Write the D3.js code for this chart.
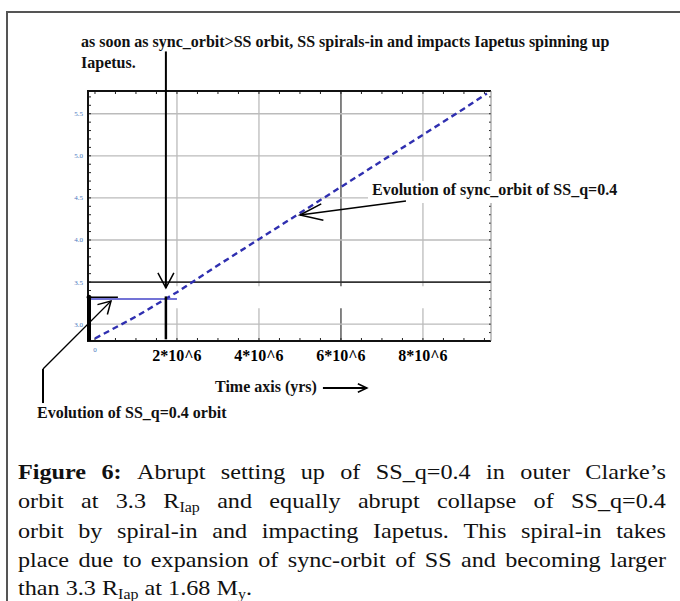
<!DOCTYPE html>
<html>
<head>
<meta charset="utf-8">
<script src="https://cdn.jsdelivr.net/npm/d3@7"></script>
<style>
  body { margin: 0; background: #fff; }
  svg { display: block; }
</style>
</head>
<body>
<svg id="fig" width="680" height="601"></svg>
<script>
const WIDTH = 680
const HEIGHT = 601

// time in units of 10^6 yrs, orbit radius in R_Iap
const syncTime = [0, 1, 2, 3, 4, 5, 6, 7, 8, 9, 9.56]
const syncOrbit = [2.83, 3.09, 3.38, 3.70, 4.01, 4.32, 4.63, 4.94, 5.25, 5.56, 5.74]
const ssTime = [-0.17, 2.0]
const ssOrbit = [3.3, 3.3]
const collapseTime = 1.73
const xTicks = [2, 4, 6, 8]
const xTickLabels = ['2*10^6', '4*10^6', '6*10^6', '8*10^6']
const yTicks = [3.0, 3.5, 4.0, 4.5, 5.0, 5.5]
const yTickLabels = ['3.0', '3.5', '4.0', '4.5', '5.0', '5.5']

const captionLines = [
    '*Figure *6: Abrupt setting up of SS_q=0.4 in outer Clarke’s',
    'orbit at 3.3 R_{Iap} and equally abrupt collapse of SS_q=0.4',
    'orbit by spiral-in and impacting Iapetus. This spiral-in takes',
    'place due to expansion of sync-orbit of SS and becoming larger',
    'than 3.3 R_{Iap} at 1.68 M_{y}.'
]

const SERIF = '"Liberation Serif", "Times New Roman", serif'
const svg = d3.select('#fig')

// page frame
svg.append('path')
    .attr('d', `M7,${HEIGHT} V12 H${WIDTH}`)
    .attr('fill', 'none')
    .attr('stroke', '#555')
    .attr('stroke-width', 2)

let plot = { left: 88, right: 491, top: 91, bottom: 341 }

const x = d3.scaleLinear().domain([-0.17, 9.66]).range([plot.left, plot.right])
const y = d3.scaleLinear().domain([2.8, 5.77]).range([plot.bottom, plot.top])

// grid (the vertical lines have a small break just under 3.5)
let grid = svg.append('g')
xTicks.forEach(t => {
    [[5.77, 3.45], [3.19, 2.8]].forEach(([a, b]) => {
        grid.append('line')
            .attr('x1', x(t)).attr('x2', x(t))
            .attr('y1', y(a)).attr('y2', y(b))
            .attr('stroke', t === 6 ? '#666' : '#bbb')
            .attr('stroke-width', t === 6 ? 1.6 : 1.3)
    })
})
yTicks.forEach(v => {
    grid.append('line')
        .attr('x1', plot.left).attr('x2', plot.right)
        .attr('y1', y(v)).attr('y2', y(v))
        .attr('stroke', v === 3.5 ? '#333' : '#bbb')
        .attr('stroke-width', v === 3.5 ? 1.8 : 1.3)
})

// minor ticks, pointing inward
let ticks = svg.append('g').attr('stroke', '#222').attr('stroke-width', 1)
d3.range(0, 9.6, 0.5).forEach(t => {
    ticks.append('line').attr('x1', x(t)).attr('x2', x(t)).attr('y1', plot.bottom).attr('y2', plot.bottom - 3)
    ticks.append('line').attr('x1', x(t)).attr('x2', x(t)).attr('y1', plot.top).attr('y2', plot.top + 3)
})
d3.range(2.8, 5.75, 0.1).forEach(v => {
    ticks.append('line').attr('x1', plot.left).attr('x2', plot.left + 3).attr('y1', y(v)).attr('y2', y(v))
    ticks.append('line').attr('x1', plot.right).attr('x2', plot.right - 2).attr('y1', y(v)).attr('y2', y(v))
})

// plot border
svg.append('path')
    .attr('d', `M${plot.right},${plot.top} H${plot.left} V${plot.bottom} H${plot.right}`)
    .attr('fill', 'none').attr('stroke', '#111').attr('stroke-width', 2)
svg.append('line')
    .attr('x1', plot.right).attr('x2', plot.right).attr('y1', plot.top).attr('y2', plot.bottom)
    .attr('stroke', '#888').attr('stroke-width', 1)

// tick labels
svg.append('g').selectAll('text')
    .data(yTicks)
    .join('text')
    .attr('x', plot.left - 5)
    .attr('y', d => y(d))
    .attr('dy', '0.35em')
    .attr('text-anchor', 'end')
    .attr('font-family', SERIF)
    .attr('font-size', 7)
    .attr('fill', '#4a78c0')
    .text((d, i) => yTickLabels[i])

svg.append('text')
    .attr('x', x(0)).attr('y', 352)
    .attr('text-anchor', 'middle')
    .attr('font-family', SERIF).attr('font-size', 7).attr('fill', '#4a78c0')
    .text('0')

svg.append('g').selectAll('text')
    .data(xTicks)
    .join('text')
    .attr('x', d => x(d))
    .attr('y', 361)
    .attr('text-anchor', 'middle')
    .attr('font-family', SERIF)
    .attr('font-weight', 'bold')
    .attr('font-size', 16)
    .text((d, i) => xTickLabels[i])

// white box behind the sync orbit label
svg.append('rect')
    .attr('x', 368).attr('y', 181).attr('width', 264).attr('height', 22)
    .attr('fill', '#fff')

// series
svg.append('path')
    .datum(syncTime.map((t, i) => [t, syncOrbit[i]]))
    .attr('fill', 'none')
    .attr('stroke', '#2f2fb0')
    .attr('stroke-width', 2.4)
    .attr('stroke-dasharray', '6,4')
    .attr('d', d3.line().x(d => x(d[0])).y(d => y(d[1])))

svg.append('path')
    .datum(ssTime.map((t, i) => [t, ssOrbit[i]]))
    .attr('fill', 'none')
    .attr('stroke', '#4545c8')
    .attr('stroke-width', 1.5)
    .attr('d', d3.line().x(d => x(d[0])).y(d => y(d[1])))

// annotations
let ann = svg.append('g').attr('stroke', '#000').attr('fill', 'none')

function arrow(x1, y1, x2, y2, len, ang, width) {
    let back = Math.atan2(y1 - y2, x1 - x2)
    let a = ang * Math.PI / 180
    ann.append('path')
        .attr('stroke-width', width)
        .attr('d', `M${x1},${y1} L${x2},${y2}`)
    ann.append('path')
        .attr('stroke-width', 1.5)
        .attr('d', `M${x2 + len * Math.cos(back - a)},${y2 + len * Math.sin(back - a)}
            L${x2},${y2} L${x2 + len * Math.cos(back + a)},${y2 + len * Math.sin(back + a)}`)
}

// set up at 3.3 and collapse at 1.73 My
ann.append('line')
    .attr('x1', x(-0.17) + 1).attr('x2', x(-0.17) + 1)
    .attr('y1', y(2.8)).attr('y2', y(3.32))
    .attr('stroke-width', 4)
ann.append('line')
    .attr('x1', x(-0.17)).attr('x2', x(0.56))
    .attr('y1', y(3.32)).attr('y2', y(3.32))
    .attr('stroke-width', 1.5)
ann.append('circle')
    .attr('cx', x(-0.17) + 1).attr('cy', y(3.32)).attr('r', 2)
    .attr('fill', '#000')
ann.append('line')
    .attr('x1', x(collapseTime)).attr('x2', x(collapseTime))
    .attr('y1', y(3.33)).attr('y2', y(2.82))
    .attr('stroke-width', 2.5)

arrow(x(collapseTime), y(6.24), x(collapseTime), y(3.43), 17, 28, 2)
arrow(x(7.586), y(4.463), x(5.0), y(4.297), 24, 20, 1.6)
ann.append('line')
    .attr('x1', x(-1.268)).attr('x2', x(-1.268))
    .attr('y1', y(2.467)).attr('y2', y(2.063))
    .attr('stroke-width', 2)
arrow(x(-1.268), y(2.467), x(0.391), y(3.275), 14, 30, 1.3)

// annotation texts
function label(tx, ty, str) {
    return svg.append('text')
        .attr('x', tx).attr('y', ty)
        .attr('font-family', SERIF)
        .attr('font-weight', 'bold')
        .attr('font-size', 16)
        .attr('fill', '#111')
        .text(str)
}
label(81, 47, 'as soon as sync_orbit>SS orbit, SS spirals-in and impacts Iapetus spinning up')
label(81, 68, 'Iapetus.')
label(372, 195, 'Evolution of sync_orbit of SS_q=0.4')
label(37, 418, 'Evolution of SS_q=0.4 orbit')
let timeLabel = label(215, 392, 'Time axis (yrs)')
let tl = 215 + timeLabel.node().getComputedTextLength()
arrow(tl + 6, 388, tl + 50, 388, 10, 25, 1.8)

// caption, justified; words are widened a little to match the original face
const CAP_SIZE = 20.5
const CAP_SX = 1.18
const capLeft = 18
const capRight = 666
const capBase = [479, 508, 538, 567, 595]

captionLines.forEach((line, li) => {
    let words = line.split(' ').map(w => {
        let g = svg.append('text')
            .attr('font-family', SERIF)
            .attr('font-size', CAP_SIZE)
            .attr('fill', '#111')
        let bold = w.startsWith('*')
        if (bold) w = w.slice(1)
        let parts = w.split(/_\{([^}]*)\}/)
        let shifted = false
        parts.forEach((p, i) => {
            if (p === '') return
            let ts = g.append('tspan').text(p)
            if (bold) ts.attr('font-weight', 'bold')
            if (i % 2 === 1) {
                ts.attr('font-size', CAP_SIZE * 0.66).attr('dy', 4)
                shifted = true
            } else if (shifted) {
                ts.attr('dy', -4)
                shifted = false
            }
        })
        return { node: g, w: g.node().getComputedTextLength() * CAP_SX }
    })
    let total = d3.sum(words, d => d.w)
    let gap = li < captionLines.length - 1
        ? (capRight - capLeft - total) / (words.length - 1)
        : CAP_SIZE * 0.25 * CAP_SX
    let cx = capLeft
    words.forEach(d => {
        d.node.attr('transform', `translate(${cx},${capBase[li]}) scale(${CAP_SX},1)`)
        cx += d.w + gap
    })
})
</script>
</body>
</html>
